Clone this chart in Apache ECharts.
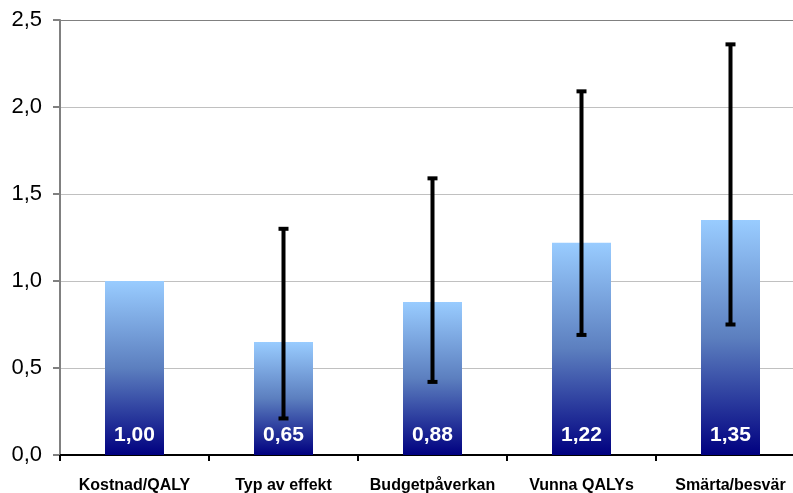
<!DOCTYPE html>
<html>
<head>
<meta charset="utf-8">
<script src="https://cdn.jsdelivr.net/npm/echarts@6/dist/echarts.min.js"></script>
<style>html,body{margin:0;padding:0;background:#fff}#c{width:793px;height:493px}</style>
</head>
<body>
<div id="c"></div>
<script>
const categories = ['Kostnad/QALY', 'Typ av effekt', 'Budgetpåverkan', 'Vunna QALYs', 'Smärta/besvär'];
const values = [1.00, 0.65, 0.88, 1.22, 1.35];
const errLow = [null, 0.21, 0.42, 0.69, 0.75];
const errHigh = [null, 1.30, 1.59, 2.09, 2.36];
const yTicks = [0, 0.5, 1.0, 1.5, 2.0, 2.5];

const fmt = v => v.toFixed(2).replace('.', ',');
const errData = [];
categories.forEach((c, i) => {
  if (errLow[i] != null) errData.push([i, errLow[i], errHigh[i]]);
});

const chart = echarts.init(document.getElementById('c'));
chart.setOption({
  animation: false,
  grid: { left: 60, top: 20, width: 745, height: 435, containLabel: false, outerBoundsMode: 'none' },
  xAxis: {
    type: 'category',
    data: categories,
    axisLine: { lineStyle: { color: '#000', width: 2 } },
    axisTick: { show: true, interval: 0, length: 6, lineStyle: { color: '#000', width: 2 } },
    axisLabel: { interval: 0, hideOverlap: false, color: '#000', fontFamily: 'Liberation Sans', fontWeight: 'bold', fontSize: 16, margin: 23 }
  },
  yAxis: {
    type: 'value',
    min: yTicks[0], max: yTicks[yTicks.length - 1], interval: 0.5,
    axisLine: { show: true, lineStyle: { color: '#808080', width: 2 } },
    axisTick: { show: true, length: 7, lineStyle: { color: '#808080', width: 2 } },
    axisLabel: { color: '#000', fontFamily: 'Liberation Sans', fontSize: 22, margin: 18,
      formatter: v => v.toFixed(1).replace('.', ',') },
    splitLine: { show: true, lineStyle: { color: ['#c0c0c0', '#c0c0c0', '#c0c0c0', '#c0c0c0', '#c0c0c0', '#808080'], width: 1 } }
  },
  series: [
    {
      type: 'bar',
      data: values,
      barWidth: 59,
      itemStyle: {
        color: new echarts.graphic.LinearGradient(0, 0, 0, 1, [
          { offset: 0, color: '#99ccff' },
          { offset: 0.5, color: '#5c7fbf' },
          { offset: 1, color: '#000080' }
        ])
      },
      label: {
        show: true, position: 'insideBottom', distance: 9,
        color: '#fff', fontFamily: 'Liberation Sans', fontWeight: 'bold', fontSize: 21,
        formatter: p => fmt(p.value)
      },
      z: 2
    },
    {
      type: 'custom',
      data: errData,
      z: 5,
      renderItem: (params, api) => {
        const x = api.value(0);
        const lo = api.coord([x, api.value(1)]);
        const hi = api.coord([x, api.value(2)]);
        const cx = lo[0];
        const hw = 5;
        const st = { stroke: '#000', lineWidth: 4 };
        return {
          type: 'group',
          children: [
            { type: 'line', shape: { x1: cx, y1: hi[1], x2: cx, y2: lo[1] }, style: st },
            { type: 'line', shape: { x1: cx - hw, y1: hi[1], x2: cx + hw, y2: hi[1] }, style: st },
            { type: 'line', shape: { x1: cx - hw, y1: lo[1], x2: cx + hw, y2: lo[1] }, style: st }
          ]
        };
      }
    }
  ]
});
</script>
</body>
</html>
